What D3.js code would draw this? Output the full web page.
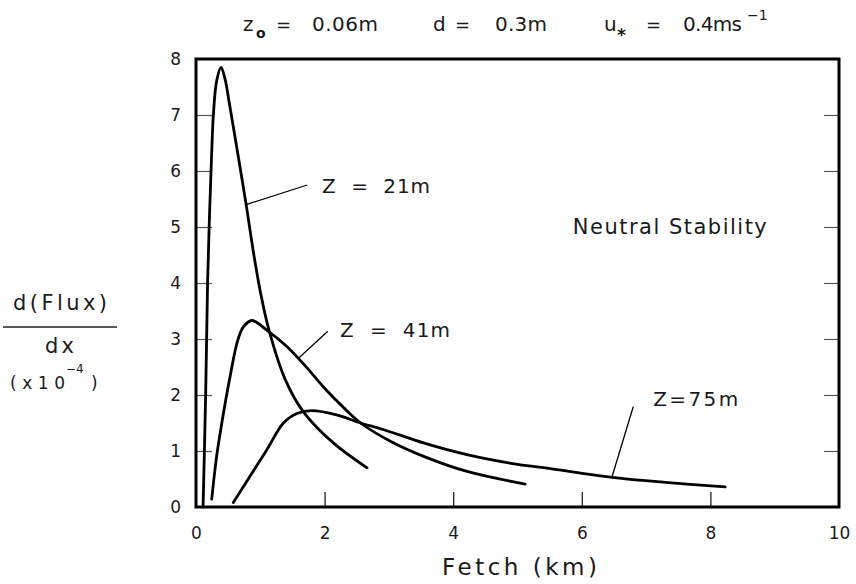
<!DOCTYPE html>
<html>
<head>
<meta charset="utf-8">
<script src="https://cdn.jsdelivr.net/npm/d3@7"></script>
<style>
  body { margin: 0; background: #fff; }
  text { font-family: "DejaVu Sans", "Liberation Sans", sans-serif; fill: #1a1a1a; }
</style>
</head>
<body>
<svg id="chart" width="856" height="584"></svg>
<script>
// valores (Fetch em km, d(Flux)/dx em 1e-4)
const z21x = [0.11, 0.15, 0.18, 0.21, 0.24, 0.27, 0.32, 0.39, 0.45, 0.52, 0.64, 0.78, 0.9, 1.0, 1.13, 1.39, 1.67, 2.14, 2.66];
const z21y = [0.0, 2.0, 4.0, 5.2, 6.2, 7.0, 7.6, 7.85, 7.65, 7.2, 6.38, 5.4, 4.5, 3.85, 3.18, 2.27, 1.7, 1.14, 0.7];

const z41x = [0.245, 0.32, 0.4, 0.53, 0.65, 0.74, 0.87, 1.1, 1.4, 1.7, 2.0, 2.3, 2.56, 3.03, 3.55, 4.23, 5.12];
const z41y = [0.14, 0.9, 1.49, 2.33, 2.98, 3.22, 3.33, 3.16, 2.88, 2.52, 2.12, 1.77, 1.5, 1.17, 0.9, 0.63, 0.41];

const z75x = [0.58, 0.84, 1.1, 1.36, 1.57, 1.8, 2.2, 2.56, 2.92, 3.55, 4.23, 4.9, 5.53, 6.47, 7.3, 8.23];
const z75y = [0.08, 0.55, 1.02, 1.5, 1.67, 1.72, 1.64, 1.5, 1.38, 1.14, 0.93, 0.78, 0.68, 0.53, 0.44, 0.36];

const xTicks = [0, 2, 4, 6, 8, 10];
const yTicks = [0, 1, 2, 3, 4, 5, 6, 7, 8];

// rótulos das curvas: texto, posição do texto, início e fim da linha guia
const rotulos = [
  { txt: "Z  =  21m", x: 1.96, y: 5.61, len: 108, from: [1.73, 5.75], to: [0.78, 5.4] },
  { txt: "Z  =  41m", x: 2.24, y: 3.04, len: 110, from: [2.05, 3.14], to: [1.59, 2.65] },
  { txt: "Z=75m", x: 7.11, y: 1.80, len: 85, from: [6.8, 1.79], to: [6.47, 0.54] }
];

const svg = d3.select("#chart");

const x = d3.scaleLinear().domain([0, 10]).range([196, 839]);
const y = d3.scaleLinear().domain([0, 8]).range([507, 59]);

// eixos com ticks para dentro
svg.append("g")
  .attr("transform", "translate(196,0)")
  .call(d3.axisLeft(y).tickValues(yTicks).tickSize(-16).tickPadding(15))
  .call(g => g.select(".domain").remove())
  .call(g => g.selectAll(".tick line").attr("stroke", "#555").attr("stroke-width", 1.2)
    .filter(d => d === 0 || d === 8).remove())
  .call(g => g.selectAll("text").style("font-size", "17px").attr("fill", "#1a1a1a"));

svg.append("g")
  .attr("transform", "translate(839,0)")
  .call(d3.axisRight(y).tickValues(yTicks.filter(d => d > 0 && d < 8)).tickSize(-15).tickFormat(""))
  .call(g => g.select(".domain").remove())
  .call(g => g.selectAll(".tick line").attr("stroke", "#555").attr("stroke-width", 1.2));

svg.append("g")
  .attr("transform", "translate(0,507)")
  .call(d3.axisBottom(x).tickValues(xTicks).tickSize(-15).tickPadding(20))
  .call(g => g.select(".domain").remove())
  .call(g => g.selectAll(".tick line").attr("stroke", "#222").attr("stroke-width", 1.3)
    .filter(d => d === 0 || d === 10).remove())
  .call(g => g.selectAll("text").style("font-size", "17px").attr("fill", "#1a1a1a"));

// moldura
svg.append("rect")
  .attr("x", x(0)).attr("y", y(8))
  .attr("width", x(10) - x(0)).attr("height", y(0) - y(8))
  .attr("fill", "none").attr("stroke", "#000").attr("stroke-width", 3);

// curvas
const linha = d3.line()
  .x(d => x(d[0]))
  .y(d => y(d[1]))
  .curve(d3.curveCatmullRom.alpha(0.5));

[[z21x, z21y], [z41x, z41y], [z75x, z75y]].forEach(([xs, ys]) => {
  svg.append("path")
    .datum(xs.map((v, i) => [v, ys[i]]))
    .attr("d", linha)
    .attr("fill", "none")
    .attr("stroke", "#000")
    .attr("stroke-width", 2.8)
    .attr("stroke-linejoin", "round")
    .attr("stroke-linecap", "round");
});

// rótulos e linhas guia
rotulos.forEach(r => {
  svg.append("line")
    .attr("x1", x(r.from[0])).attr("y1", y(r.from[1]))
    .attr("x2", x(r.to[0])).attr("y2", y(r.to[1]))
    .attr("stroke", "#000").attr("stroke-width", 1.3);
  svg.append("text")
    .attr("x", x(r.x)).attr("y", y(r.y))
    .attr("textLength", r.len).attr("lengthAdjust", "spacing")
    .style("font-size", "20px")
    .style("white-space", "pre")
    .text(r.txt);
});

svg.append("text")
  .attr("x", x(5.86)).attr("y", y(4.875))
  .attr("textLength", 194).attr("lengthAdjust", "spacing")
  .style("font-size", "21px")
  .text("Neutral Stability");

// título
const titulo = [
  { t: "z", x: 243, y: 31, s: 20 },
  { t: "o", x: 256, y: 38, s: 14, w: "bold" },
  { t: "=", x: 276, y: 31, s: 18 },
  { t: "0.06m", x: 312, y: 31, s: 20, len: 66 },
  { t: "d", x: 433, y: 31, s: 20 },
  { t: "=", x: 455, y: 31, s: 18 },
  { t: "0.3m", x: 495, y: 31, s: 20, len: 52 },
  { t: "u", x: 604, y: 31, s: 20 },
  { t: "*", x: 617, y: 41, s: 17, w: "bold" },
  { t: "=", x: 646, y: 31, s: 18 },
  { t: "0.4ms", x: 683, y: 31, s: 20, len: 59 },
  { t: "\u22121", x: 747, y: 20, s: 14 }
];
titulo.forEach(p => {
  const el = svg.append("text")
    .attr("x", p.x).attr("y", p.y)
    .style("font-size", p.s + "px")
    .style("font-weight", p.w || "normal")
    .text(p.t);
  if (p.len) el.attr("textLength", p.len).attr("lengthAdjust", "spacing");
});

// rótulo do eixo y em forma de fração
svg.append("text")
  .attr("x", 13).attr("y", 310)
  .attr("textLength", 94).attr("lengthAdjust", "spacing")
  .style("font-size", "21px")
  .text("d(Flux)");
svg.append("line")
  .attr("x1", 3).attr("x2", 117)
  .attr("y1", 327).attr("y2", 327)
  .attr("stroke", "#222").attr("stroke-width", 1.6);
svg.append("text")
  .attr("x", 45).attr("y", 353)
  .attr("textLength", 29).attr("lengthAdjust", "spacing")
  .style("font-size", "21px")
  .text("dx");
svg.append("text")
  .attr("x", 10).attr("y", 389)
  .attr("textLength", 55).attr("lengthAdjust", "spacing")
  .style("font-size", "17px")
  .text("(x10");
svg.append("text")
  .attr("x", 66).attr("y", 373)
  .style("font-size", "12px")
  .text("\u22124");
svg.append("text")
  .attr("x", 91).attr("y", 389)
  .style("font-size", "17px")
  .text(")");

// rótulo do eixo x
svg.append("text")
  .attr("x", 442).attr("y", 575)
  .attr("textLength", 155).attr("lengthAdjust", "spacing")
  .style("font-size", "23px")
  .text("Fetch (km)");
</script>
</body>
</html>
